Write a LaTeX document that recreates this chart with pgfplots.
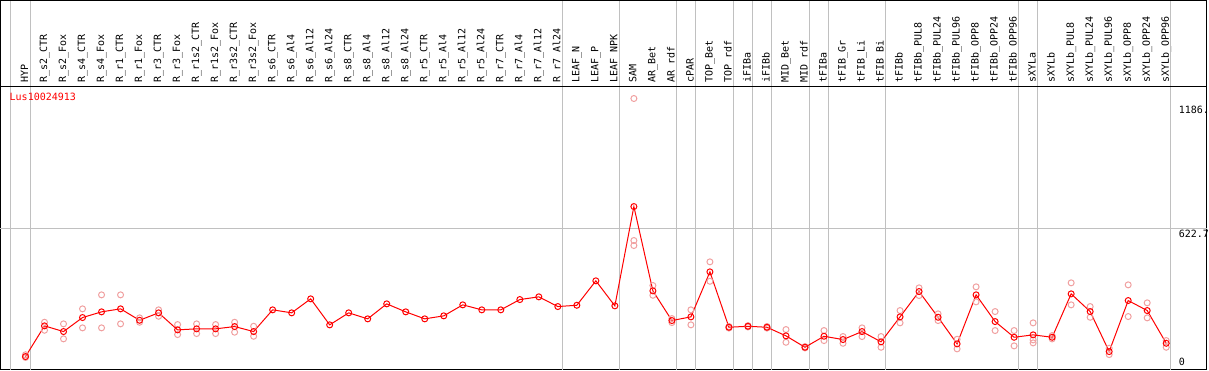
\documentclass[border=0pt]{standalone}
\usepackage{pgfplots}
\pgfplotsset{compat=1.18}
\usepackage{fontspec}
\setmainfont{DejaVu Sans Mono}
\setmonofont{DejaVu Sans Mono}
\definecolor{gridgray}{RGB}{192,192,192}
\definecolor{reppink}{RGB}{240,160,160}
\begin{document}
\begin{tikzpicture}
\begin{axis}[
  scale only axis,
  width=1206pt, height=369pt,
  xmin=-1.315, xmax=62.13,
  ymin=-15, ymax=1657,
  axis line style={black, line width=1pt},
  major tick length=0pt,
  xtick={0,...,60},
  xticklabels={HYP,R\_s2\_CTR,R\_s2\_Fox,R\_s4\_CTR,R\_s4\_Fox,R\_r1\_CTR,R\_r1\_Fox,R\_r3\_CTR,R\_r3\_Fox,R\_r1s2\_CTR,R\_r1s2\_Fox,R\_r3s2\_CTR,R\_r3s2\_Fox,R\_s6\_CTR,R\_s6\_Al4,R\_s6\_Al12,R\_s6\_Al24,R\_s8\_CTR,R\_s8\_Al4,R\_s8\_Al12,R\_s8\_Al24,R\_r5\_CTR,R\_r5\_Al4,R\_r5\_Al12,R\_r5\_Al24,R\_r7\_CTR,R\_r7\_Al4,R\_r7\_Al12,R\_r7\_Al24,LEAF\_N,LEAF\_P,LEAF\_NPK,SAM,AR\_Bet,AR\_rdf,cPAR,TOP\_Bet,TOP\_rdf,iFIBa,iFIBb,MID\_Bet,MID\_rdf,tFIBa,tFIB\_Gr,tFIB\_Li,tFIB\_Bi,tFIBb,tFIBb\_PUL8,tFIBb\_PUL24,tFIBb\_PUL96,tFIBb\_OPP8,tFIBb\_OPP24,tFIBb\_OPP96,sXYLa,sXYLb,sXYLb\_PUL8,sXYLb\_PUL24,sXYLb\_PUL96,sXYLb\_OPP8,sXYLb\_OPP24,sXYLb\_OPP96},
  xticklabel pos=upper,
  xticklabel shift=-82.5pt,
  xticklabel style={rotate=90, anchor=west, inner sep=0pt, font=\fontsize{10}{10}\selectfont, text height=7.4pt, text depth=2.2pt},
  extra x ticks={-0.8,0.24,28.23,31.23,34.23,35.23,37.23,38.23,39.23,41.23,42.23,45.23,52.23,53.23,60.23},
  extra x tick labels={},
  extra x tick style={grid=major},
  ytick={1186},
  yticklabels={1186.},
  yticklabel pos=right,
  yticklabel style={anchor=north west, inner sep=0pt, xshift=-28pt, yshift=-1pt, font=\fontsize{10}{10}\selectfont},
  extra y ticks={622.7},
  extra y tick labels={622.7},
  extra y tick style={grid=major},
  grid style={gridgray, line width=1pt},
  clip=false,
]
\addplot[only marks, mark=o, mark size=3pt, mark options={reppink, line width=1pt}] coordinates {
(0,52)(0,40)
(1,199.4)(1,163.1)
(2,192.1)(2,124.2)
(3,260.1)(3,174.0)
(4,323.5)(4,174.0)
(5,323.5)(5,192.1)
(6,219.3)(6,199.4)
(7,255.6)(7,226.6)
(8,188.9)(8,143.6)
(9,192.1)(9,148.2)
(10,188.9)(10,148.2)
(11,199.4)(11,154.3)
(12,181.2)(12,135.9)
(32,1213)(32,569.6)(32,547.0)
(33,365.7)(33,321.7)
(34,216)(34,198)
(35,255.6)(35,187.6)
(36,473.0)(36,385.1)
(37,180)(37,173)
(38,184)(38,178)
(39,180)(39,173)
(40,166.3)(40,108.7)
(41,89)(41,83)
(42,161.8)(42,116.4)
(43,134.6)(43,104.2)
(44,174.0)(44,134.6)
(45,134.6)(45,86.1)
(46,252.4)(46,196.6)
(47,355.2)(47,320.3)
(48,237.4)(48,207.1)
(49,122.3)(49,78.8)
(50,359.8)(50,291.8)
(51,247.8)(51,161.8)
(52,161.8)(52,92.4)
(53,196.6)(53,119.6)(53,106.0)
(54,139)(54,124)
(55,377.9)(55,278.2)
(56,270.5)(56,222.0)
(57,81.6)(57,53.0)
(58,368.8)(58,225.2)
(59,287.3)(59,219.3)
(60,116.4)(60,86.1)
};
\addplot[red, line width=1pt, mark=o, mark size=3pt, mark options={red, line width=1pt}] coordinates {
(0,44)(1,183)(2,157.2)(3,220.7)(4,246.5)(5,260.1)(6,208.4)(7,242.0)(8,164.9)(9,169.5)
(10,169.5)(11,179.9)(12,157.2)(13,255.6)(14,242.0)(15,305.4)(16,187.6)(17,242.0)(18,214.8)(19,282.7)
(20,246.5)(21,214.8)(22,228.4)(23,278.2)(24,255.6)(25,255.6)(26,302.2)(27,314.5)(28,270.5)(29,276.4)
(30,387.0)(31,273.7)(32,723.6)(33,341.6)(34,207.1)(35,223.8)(36,427.7)(37,176.7)(38,181.2)(39,176.7)
(40,137.7)(41,86.1)(42,135.9)(43,121.0)(44,157.2)(45,110.6)(46,223.8)(47,338.5)(48,222.0)(49,101.5)
(50,323.5)(51,202.5)(52,131.4)(53,142.3)(54,131.4)(55,328.0)(56,247.8)(57,66.6)(58,297.7)(59,252.4)
(60,104.2)
};
\draw[black, line width=1pt] (rel axis cs:0,0.7669) -- (rel axis cs:1,0.7669);
\node[anchor=north west, inner sep=0pt, text=red, font=\fontsize{10}{10}\selectfont] at (axis cs:-0.842,1237) {Lus10024913};
\node[anchor=south west, inner sep=0pt, xshift=-28pt, yshift=0.7pt, font=\fontsize{10}{10}\selectfont] at (axis cs:62.13,0) {0};
\end{axis}
\end{tikzpicture}
\end{document}
